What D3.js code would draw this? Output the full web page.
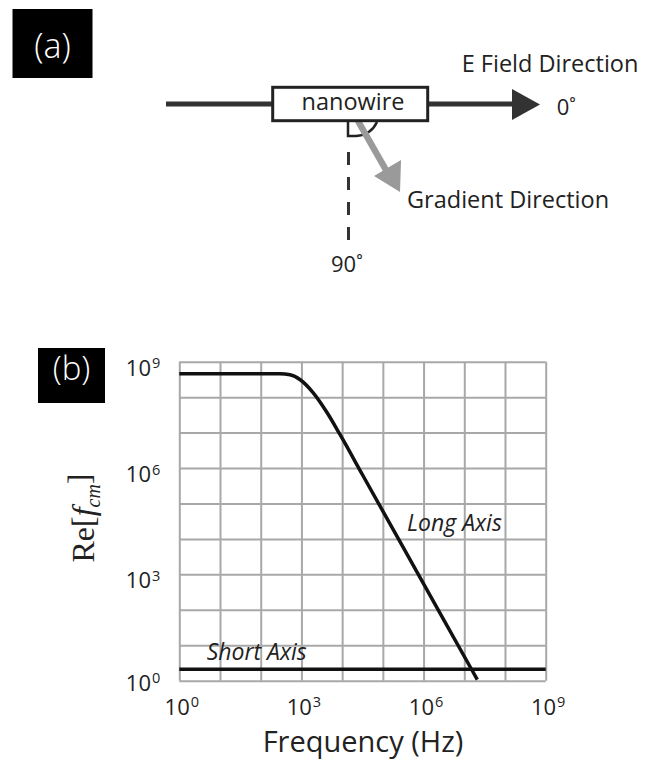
<!DOCTYPE html>
<html>
<head>
<meta charset="utf-8">
<script src="https://cdn.jsdelivr.net/npm/d3@7"></script>
<style>
  html, body { margin: 0; padding: 0; background: #fff; }
  svg { display: block; }
  text { font-family: "Open Sans", "DejaVu Sans", sans-serif; fill: #222; }
</style>
</head>
<body>
<div id="chart"></div>
<script>
// ---------- Data ----------
// Long-axis Re[f_cm] curve: frequency (Hz) and value
const longFreq = [1, 295, 525, 933, 1950, 4170, 8910, 3.16e4, 3.16e5, 3.16e6, 2.09e7];
const longVal  = [4.57e8, 4.57e8, 4.27e8, 3.09e8, 1.32e8, 3.8e7, 8.71e6, 6.46e5, 5750, 51.3, 1.07];
// Short-axis Re[f_cm]: flat
const shortFreq = [1, 1e9];
const shortVal  = [2.1, 2.1];
// Axis ticks (exponents of 10)
const xTickExp = [0, 3, 6, 9];
const yTickExp = [0, 3, 6, 9];
const gridExp  = [0, 1, 2, 3, 4, 5, 6, 7, 8, 9];
const seriesLabels = ["Long Axis", "Short Axis"];

const W = 645, H = 767;
const svg = d3.select("#chart").append("svg").attr("width", W).attr("height", H);

// ---------- Panel (a): schematic ----------
const pa = svg.append("g");
pa.append("rect").attr("x", 12.5).attr("y", 9).attr("width", 80).attr("height", 69).attr("fill", "#000");
pa.append("text").attr("x", 52.5).attr("y", 58).attr("text-anchor", "middle")
  .style("font-size", "34px").style("font-weight", 300).style("fill", "#fff").text("(a)");

// E-field axis line + arrow
pa.append("line").attr("x1", 166).attr("x2", 514).attr("y1", 104).attr("y2", 104)
  .attr("stroke", "#333").attr("stroke-width", 5);
pa.append("path").attr("d", "M512,89 L540,104.5 L512,120 Z").attr("fill", "#333");

// dashed 90° line
pa.append("line").attr("x1", 348.5).attr("x2", 348.5).attr("y1", 152).attr("y2", 243)
  .attr("stroke", "#333").attr("stroke-width", 3).attr("stroke-dasharray", "13,12");
// angle marker
pa.append("path").attr("d", "M348,121 V136 H356 Q371,135 377,122")
  .attr("fill", "none").attr("stroke", "#222").attr("stroke-width", 2.5);

// gradient arrow (gray)
pa.append("line").attr("x1", 358).attr("y1", 121).attr("x2", 386).attr("y2", 170)
  .attr("stroke", "#9a9a9a").attr("stroke-width", 6.5);
pa.append("path").attr("d", "M374,176 L401,160 L400,192 Z").attr("fill", "#9a9a9a");

// nanowire box
pa.append("rect").attr("x", 272.7).attr("y", 87.3).attr("width", 155).attr("height", 33.4)
  .attr("fill", "#fff").attr("stroke", "#222").attr("stroke-width", 3);
pa.append("text").attr("x", 353).attr("y", 110).attr("text-anchor", "middle")
  .style("font-size", "23.5px").text("nanowire");

pa.append("text").attr("x", 461.7).attr("y", 71.7).style("font-size", "23.5px").text("E Field Direction");
pa.append("text").attr("x", 556.7).attr("y", 115).style("font-size", "22px").text("0˚");
pa.append("text").attr("x", 407).attr("y", 208).style("font-size", "23.5px").text("Gradient Direction");
pa.append("text").attr("x", 331).attr("y", 272).style("font-size", "22px").text("90˚");

// ---------- Panel (b): chart ----------
svg.append("rect").attr("x", 38).attr("y", 348).attr("width", 67).attr("height", 55).attr("fill", "#000");
svg.append("text").attr("x", 71.5).attr("y", 380).attr("text-anchor", "middle")
  .style("font-size", "33px").style("font-weight", 300).style("fill", "#fff").text("(b)");

const plot = { left: 179.3, top: 361.7, right: 545.7, bottom: 680.7 };
const x = d3.scaleLog().domain([1, 1e9]).range([plot.left, plot.right]);
const y = d3.scaleLog().domain([1, 1e9]).range([plot.bottom, plot.top]);

const g = svg.append("g");

// gridlines
const gx = g.append("g").attr("transform", `translate(0,${plot.bottom})`)
  .call(d3.axisBottom(x).tickValues(gridExp.map(e => Math.pow(10, e)))
    .tickSize(-(plot.bottom - plot.top)).tickFormat(""));
gx.select(".domain").remove();
gx.selectAll(".tick line").attr("stroke", "#a8a8a8").attr("stroke-width", 2);
const gy = g.append("g").attr("transform", `translate(${plot.left},0)`)
  .call(d3.axisLeft(y).tickValues(gridExp.map(e => Math.pow(10, e)))
    .tickSize(-(plot.right - plot.left)).tickFormat(""));
gy.select(".domain").remove();
gy.selectAll(".tick line").attr("stroke", "#a8a8a8").attr("stroke-width", 2);

// tick labels with superscripts
function supLabel(sel, size) {
  sel.each(function (d) {
    const t = d3.select(this);
    const e = Math.round(Math.log10(d));
    t.text(null);
    t.append("tspan").text("10");
    t.append("tspan").attr("dx", "1").attr("dy", "-0.5em").style("font-size", (size * 0.66) + "px").text(e);
  });
}
const ax = g.append("g").attr("transform", `translate(0,${plot.bottom})`)
  .call(d3.axisBottom(x).tickValues(xTickExp.map(e => Math.pow(10, e))).tickSize(0).tickPadding(0));
ax.select(".domain").remove();
ax.selectAll(".tick text").attr("y", 34).attr("dy", 0).attr("dx", 2)
  .style("font-size", "22px").style("font-family", "Open Sans").attr("fill", "#222")
  .call(supLabel, 22);

const ay = g.append("g").attr("transform", `translate(${plot.left},0)`)
  .call(d3.axisLeft(y).tickValues(yTickExp.map(e => Math.pow(10, e))).tickSize(0).tickPadding(0));
ay.select(".domain").remove();
ay.selectAll(".tick text").attr("x", -19).attr("dy", 0)
  .attr("y", d => (d === 1 ? 9.5 : 13.5))
  .style("font-size", "22px").style("font-family", "Open Sans").attr("fill", "#222")
  .call(supLabel, 22);

// lines
const line = d3.line().x(d => x(d[0])).y(d => y(d[1])).curve(d3.curveMonotoneX);
g.append("path").datum(shortFreq.map((f, i) => [f, shortVal[i]]))
  .attr("d", line).attr("fill", "none").attr("stroke", "#111").attr("stroke-width", 3.5);
g.append("path").datum(longFreq.map((f, i) => [f, longVal[i]]))
  .attr("d", line).attr("fill", "none").attr("stroke", "#111").attr("stroke-width", 3.5);

// series labels
g.append("text").attr("x", 407).attr("y", 531).style("font-size", "23px").style("font-style", "italic")
  .text(seriesLabels[0]);
g.append("text").attr("x", 206.7).attr("y", 660).style("font-size", "23px").style("font-style", "italic")
  .text(seriesLabels[1]);

// axis titles
svg.append("text").attr("x", 363).attr("y", 752).attr("text-anchor", "middle")
  .style("font-size", "29px").text("Frequency (Hz)");

const yt = svg.append("text").attr("transform", "translate(94,518) rotate(-90)").attr("text-anchor", "middle")
  .style("font-family", "'Liberation Serif', 'Times New Roman', serif").style("font-size", "32px");
yt.append("tspan").text("Re[");
yt.append("tspan").style("font-style", "italic").text("f");
yt.append("tspan").attr("dy", "0.3em").style("font-size", "20px").style("font-style", "italic").text("cm");
yt.append("tspan").attr("dy", "-0.3em").text("]");
</script>
</body>
</html>
